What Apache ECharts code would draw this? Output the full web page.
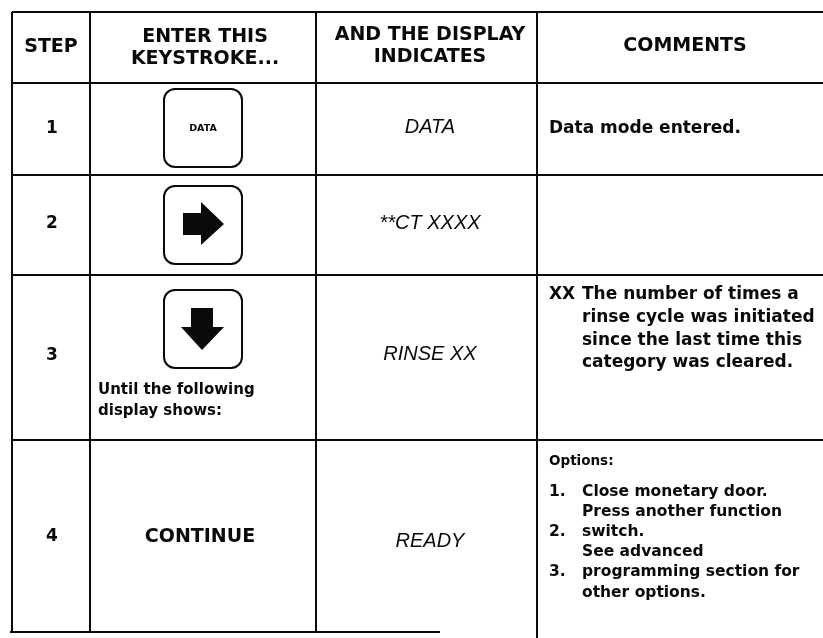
<!DOCTYPE html>
<html><head><meta charset="utf-8">
<script src="https://cdn.jsdelivr.net/npm/echarts@6/dist/echarts.min.js"></script>
<style>html,body{margin:0;padding:0;background:#fff}#c{width:823px;height:638px}</style>
</head><body><div id="c"></div>
<script>
// ---- content ----
const headerLines = [['STEP'], ['ENTER THIS', 'KEYSTROKE...'], ['AND THE DISPLAY', 'INDICATES'], ['COMMENTS']];
const steps = ['1', '2', '3', '4'];
const keyKinds = ['key', 'right', 'down', 'text'];
const keyLabels = ['DATA', '', '', 'CONTINUE'];
const keyNotes = [[], [], ['Until the following', 'display shows:'], []];
const displays = ['DATA', '**CT XXXX', 'RINSE XX', 'READY'];
const commentMarks = [['Data mode entered.'], [], ['XX', '', '', ''], ['Options:', '1.', '', '2.', '', '3.', '']];
const commentTexts = [[''], [], ['The number of times a', 'rinse cycle was initiated', 'since the last time this', 'category was cleared.'],
  ['', 'Close monetary door.', 'Press another function', 'switch.', 'See advanced', 'programming section for', 'other options.']];

// ---- layout (positions / sizes only) ----
const L = {
  cols: [12, 90, 316, 537, 823],
  rows: [12, 83, 175, 275, 440, 632],
  bottomEnd: 440,
  headerY: [[47], [37, 59], [35, 57], [46]],
  headerX: [51, 205, 430, 685],
  stepX: 52, stepY: [129, 224, 356, 537],
  keyCx: 203, keyCy: [128, 225, 329, 537], keyW: 78, keyH: 78, contX: 200,
  noteX: 98, noteY: [390, 411],
  dispX: 430, dispY: [127, 223, 354, 541],
  markX: 549, textX: 582,
  comY: [[129], [], [295, 318, 341, 363], [461, 492, 512, 532, 552, 572, 593]],
  comSize: [17, 17, 17, 15.5]
};
const INK = '#0a0a0a';
const SANS = '"DejaVu Sans", "Liberation Sans", sans-serif';

function txt(pt, s, size, opts) {
  opts = opts || {};
  return {
    type: 'text', x: pt[0], y: pt[1],
    style: {
      text: s, fill: INK, fontSize: size, fontFamily: opts.family || SANS,
      fontWeight: opts.weight || 'bold', fontStyle: opts.style || 'normal',
      align: opts.align || 'center', verticalAlign: 'middle'
    }
  };
}

function renderRow(params, api) {
  const r = api.value(0);
  const P = (x, y) => api.coord([x, y]);
  const ch = [];
  if (r === 0) {
    headerLines.forEach((lines, c) => lines.forEach((s, i) => ch.push(txt(P(L.headerX[c], L.headerY[c][i]), s, 19))));
    return { type: 'group', children: ch };
  }
  const k = r - 1;
  ch.push(txt(P(L.stepX, L.stepY[k]), steps[k], 17));
  const c0 = P(L.keyCx, L.keyCy[k]);
  const cx = c0[0], cy = c0[1];
  if (keyKinds[k] !== 'text') {
    ch.push({ type: 'rect', shape: { x: cx - L.keyW / 2, y: cy - L.keyH / 2, width: L.keyW, height: L.keyH, r: 11 },
      style: { fill: 'none', stroke: INK, lineWidth: 2 } });
  }
  if (keyKinds[k] === 'key') {
    ch.push(txt([cx, cy + 1], keyLabels[k], 9.5));
  } else if (keyKinds[k] === 'right') {
    ch.push({ type: 'polygon', shape: { points: [[cx - 20, cy - 12], [cx - 2, cy - 12], [cx - 2, cy - 23], [cx + 21, cy - 1], [cx - 2, cy + 20], [cx - 2, cy + 10], [cx - 20, cy + 10]] },
      style: { fill: INK } });
  } else if (keyKinds[k] === 'down') {
    ch.push({ type: 'polygon', shape: { points: [[cx - 12, cy - 21], [cx + 10, cy - 21], [cx + 10, cy - 2], [cx + 21, cy - 2], [cx - 1, cy + 21], [cx - 22, cy - 2], [cx - 12, cy - 2]] },
      style: { fill: INK } });
  } else {
    ch.push(txt(P(L.contX, L.keyCy[k]), keyLabels[k], 19));
  }
  keyNotes[k].forEach((s, i) => ch.push(txt(P(L.noteX, L.noteY[i]), s, 15, { align: 'left' })));
  ch.push(txt(P(L.dispX, L.dispY[k]), displays[k], 20, { family: '"Liberation Sans", Arial, sans-serif', weight: 'normal', style: 'italic' }));
  const sz = L.comSize[k];
  commentMarks[k].forEach((m, i) => {
    const y = L.comY[k][i];
    const isOpt = m === 'Options:';
    if (m) ch.push(txt(P(L.markX, y), m, isOpt ? 13.5 : sz, { align: 'left' }));
    const t = commentTexts[k][i];
    if (t) ch.push(txt(P(L.textX, y), t, sz, { align: 'left' }));
  });
  return { type: 'group', children: ch };
}

// rule segments derived from layout
const rules = [];
L.rows.slice(0, 5).forEach(y => rules.push([L.cols[0], y, L.cols[4], y]));
rules.push([L.cols[0] - 2, L.rows[5], L.bottomEnd, L.rows[5]]);
L.cols.slice(0, 3).forEach(x => rules.push([x, L.rows[0], x, L.rows[5]]));
rules.push([L.cols[3], L.rows[0], L.cols[3], 638]);

function renderRule(params, api) {
  const a = api.coord([api.value(0), api.value(1)]);
  const b = api.coord([api.value(2), api.value(3)]);
  return { type: 'line', shape: { x1: a[0], y1: a[1], x2: b[0], y2: b[1] }, style: { stroke: INK, lineWidth: 2 } };
}

const chart = echarts.init(document.getElementById('c'));
chart.setOption({
  backgroundColor: '#ffffff',
  animation: false,
  grid: { left: 0, right: 0, top: 0, bottom: 0 },
  xAxis: { type: 'value', min: 0, max: 823, show: false },
  yAxis: { type: 'value', min: 0, max: 638, inverse: true, show: false },
  series: [
    { type: 'custom', clip: false, renderItem: renderRule, data: rules, silent: true },
    { type: 'custom', clip: false, renderItem: renderRow, data: [[0], [1], [2], [3], [4]], silent: true }
  ]
});
</script></body></html>
